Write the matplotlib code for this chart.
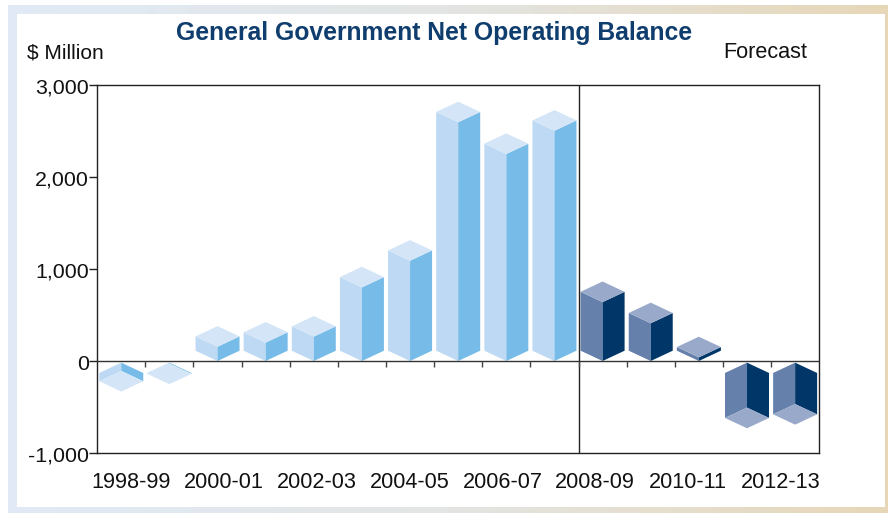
import numpy as np
import matplotlib
matplotlib.use("Agg")
import matplotlib.pyplot as plt
from matplotlib.colors import LinearSegmentedColormap
from matplotlib.patches import Rectangle

plt.rcParams['font.family'] = ['Liberation Sans', 'DejaVu Sans']

W, H = 888, 513

years = ["1998-99", "1999-00", "2000-01", "2001-02", "2002-03", "2003-04", "2004-05", "2005-06",
         "2006-07", "2007-08", "2008-09", "2009-10", "2010-11", "2011-12", "2012-13"]
balance = [-90, -10, 155, 200, 265, 800, 1090, 2595, 2250, 2503, 640, 410, 40, -489, -450]
n_actual = 10  # the rest is forecast

y_ticks = [-1000, 0, 1000, 2000, 3000]
y_tick_labels = ["-1,000", "0", "1,000", "2,000", "3,000"]

# colours per bar: left face, right face, end cap
actual_cols = ("#BDD9F3", "#77BCE8", "#D3E5F6")
forecast_cols = ("#6580AA", "#003768", "#98A9C9")

fig = plt.figure(figsize=(W / 100, H / 100), dpi=100, facecolor="white")

# gradient frame behind everything
bg = fig.add_axes([0, 0, 1, 1])
bg.axis("off")
cmap = LinearSegmentedColormap.from_list("frame", ["#E0EAF6", "#E3E5E3", "#E7D7B8"])
bg.imshow(np.linspace(0, 1, 256)[None, :], cmap=cmap, aspect="auto", extent=(8, W, 513, 5))
bg.add_patch(Rectangle((17, 14), 868, 493, facecolor="white", edgecolor="none"))
bg.set_xlim(0, W)
bg.set_ylim(H, 0)

# plot area in pixels
left, right, top, bottom = 97.2, 819.2, 85, 453
ax = fig.add_axes([left / W, 1 - bottom / H, (right - left) / W, (bottom - top) / H])
ax.patch.set_alpha(0)
ax.set_xlim(0, len(years))
ax.set_ylim(-1000, 3000)

half_w = 0.457  # half bar width, in categories
depth = 112     # half height of the diamond, in value units
neg_gap = 18    # negative bars start just under the axis

for i, v in enumerate(balance):
    c = i + 0.5
    cols = actual_cols if i < n_actual else forecast_cols
    if v >= 0:
        lf = [(c - half_w, depth), (c, 0), (c, v), (c - half_w, v + depth)]
        rf = [(c + half_w, depth), (c, 0), (c, v), (c + half_w, v + depth)]
        cap = [(c - half_w, v + depth), (c, v), (c + half_w, v + depth), (c, v + 2 * depth)]
    else:
        a = -neg_gap
        b = v - neg_gap
        lf = [(c - half_w, a - depth), (c, a), (c, b), (c - half_w, b - depth)]
        rf = [(c + half_w, a - depth), (c, a), (c, b), (c + half_w, b - depth)]
        cap = [(c - half_w, b - depth), (c, b), (c + half_w, b - depth), (c, b - 2 * depth)]
    for poly, col in zip((lf, rf, cap), cols):
        ax.fill(*zip(*poly), facecolor=col, edgecolor="none", zorder=2)

# zero line with category ticks, divider for the forecast years
ax.axhline(0, color="#333333", lw=1, zorder=3)
ax.axvline(n_actual, color="#222222", lw=1, zorder=3)
ax.set_xticks(np.arange(len(years) + 1))
ax.set_xticklabels([])
ax.tick_params(axis="x", length=0)
ax.vlines(np.arange(1, len(years)), -60, 0, color="#444444", lw=1, zorder=3)

for s in ax.spines.values():
    s.set_color("#222222")
    s.set_linewidth(1)

ax.set_yticks(y_ticks)
ax.set_yticklabels([])
ax.tick_params(axis="y", length=6, width=1, color="#222222")
# labels sit a little below their ticks in the original
for y, lab in zip(y_ticks, y_tick_labels):
    ax.annotate(lab, (0, y), xycoords=("axes fraction", "data"), xytext=(-8.5, -1), textcoords="offset pixels",
                ha="right", va="center_baseline", fontsize=15.4, color="#111111", annotation_clip=False)

# every second year is labelled, a bit tighter than the categories
label_px = np.linspace(131, 781, 8)
for x, lab in zip(label_px, years[::2]):
    fig.text(x / W, 1 - 482.5 / H, lab, ha="center", va="center", fontsize=15.6, color="#111111")

fig.text(434.5 / W, 1 - 33 / H, "General Government Net Operating Balance", ha="center", va="center",
         fontsize=17.8, fontweight="bold", color="#0F3D6E")
fig.text(27 / W, 1 - 52.5 / H, "$ Million", ha="left", va="center", fontsize=15, color="#111111")
fig.text(723.5 / W, 1 - 52.5 / H, "Forecast", ha="left", va="center", fontsize=15.6, color="#111111")

fig.savefig("out.png", dpi=100)
